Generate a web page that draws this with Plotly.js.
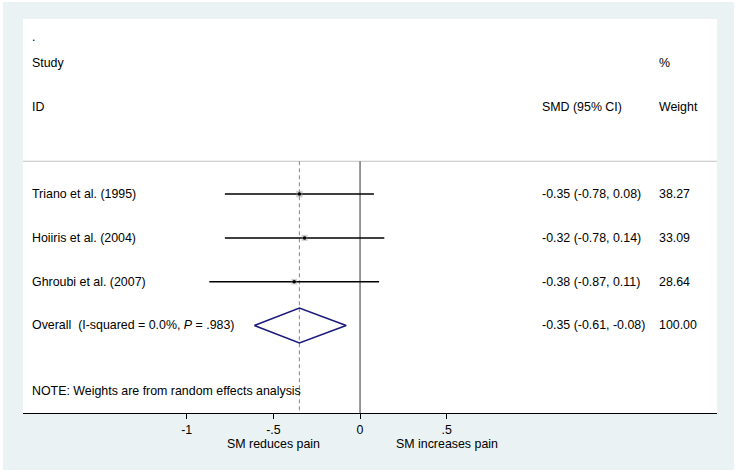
<!DOCTYPE html>
<html>
<head>
<meta charset="utf-8">
<script src="https://cdn.plot.ly/plotly-3.0.1.min.js"></script>
<style>
  body { margin: 0; background: #ffffff; }
  #graph { position: absolute; left: 3px; top: 2px; width: 731px; height: 468px; }
</style>
</head>
<body>
<div id="graph"></div>
<script>
// forest plot data
var studies = ["Triano et al. (1995)", "Hoiiris et al. (2004)", "Ghroubi et al. (2007)"];
var smd = [-0.35, -0.32, -0.38];
var ciLow = [-0.78, -0.78, -0.87];
var ciHigh = [0.08, 0.14, 0.11];
var weights = [38.27, 33.09, 28.64];

var overallLabel = "Overall\u00a0\u00a0(I-squared = 0.0%, <i>P</i> = .983)";
var overallEst = -0.35;
var overallLow = -0.61;
var overallHigh = -0.08;
var overallWeight = 100.00;

var tickVals = [-1, -0.5, 0, 0.5];
var tickText = ["-1", "-.5", "0", ".5"];

var font = "Liberation Sans, Arial, sans-serif";
var fsize = 12.4;
var rows = studies.map(function(s, i) { return i + 1; });
var overallRow = studies.length + 1;

function fmt(v) { return v.toFixed(2); }

// CI lines
var lx = [], ly = [];
for (var i = 0; i < studies.length; i++) {
    lx.push(ciLow[i], ciHigh[i], null);
    ly.push(rows[i], rows[i], null);
}
var ciLines = {
    type: "scatter", mode: "lines", x: lx, y: ly,
    line: {color: "#000000", width: 1.5},
    hoverinfo: "skip", showlegend: false
};
var boxes = {
    type: "scatter", mode: "markers", x: smd, y: rows,
    marker: {
        symbol: "square", color: "rgba(140,140,140,0.6)",
        size: weights.map(function(w) { return 6.5 * Math.sqrt(w / 38.27); }),
        line: {width: 0}
    },
    hoverinfo: "skip", showlegend: false
};
var dots = {
    type: "scatter", mode: "markers", x: smd, y: rows,
    marker: {symbol: "circle", color: "#000000", size: 3.5},
    hoverinfo: "skip", showlegend: false
};
var diamond = {
    type: "scatter", mode: "lines",
    x: [overallLow, overallEst, overallHigh, overallEst, overallLow],
    y: [overallRow, overallRow - 0.4, overallRow, overallRow + 0.4, overallRow],
    line: {color: "#1a1a7a", width: 1.5},
    hoverinfo: "skip", showlegend: false
};

var xName = -1.905, xCI = 1.04, xW = 1.714;
var annotations = [];
function txt(x, y, t, xref, yref) {
    annotations.push({
        x: x, y: y, xref: xref || "x", yref: yref || "y", text: t,
        showarrow: false, xanchor: "left", yanchor: "middle",
        font: {family: font, size: fsize, color: "#000000"}
    });
}
txt(xName, -2.6, ".");
txt(xName, -2, "Study");
txt(xName, -1, "ID");
txt(xW, -2, "%");
txt(xCI, -1, "SMD (95% CI)");
txt(xW, -1, "Weight");
studies.forEach(function(s, i) {
    txt(xName, rows[i], s);
    txt(xCI, rows[i], fmt(smd[i]) + " (" + fmt(ciLow[i]) + ", " + fmt(ciHigh[i]) + ")");
    txt(xW, rows[i], fmt(weights[i]));
});
txt(xName, overallRow, overallLabel);
txt(xCI, overallRow, fmt(overallEst) + " (" + fmt(overallLow) + ", " + fmt(overallHigh) + ")");
txt(xW, overallRow, fmt(overallWeight));
txt(xName, 5.5, "NOTE: Weights are from random effects analysis");

annotations.push({
    x: -0.5, y: -0.079, xref: "x", yref: "paper", text: "SM reduces pain",
    showarrow: false, xanchor: "center", yanchor: "middle",
    font: {family: font, size: fsize, color: "#000000"}
});
annotations.push({
    x: 0.5, y: -0.079, xref: "x", yref: "paper", text: "SM increases pain",
    showarrow: false, xanchor: "center", yanchor: "middle",
    font: {family: font, size: fsize, color: "#000000"}
});

var shapes = [
    {type: "line", xref: "paper", yref: "y", x0: 0, x1: 1, y0: 0.25, y1: 0.25,
     line: {color: "#c4c4c4", width: 1}, layer: "below"},
    {type: "line", xref: "x", yref: "y", x0: 0, x1: 0, y0: 0.25, y1: 6,
     line: {color: "#333333", width: 1}, layer: "below"},
    {type: "line", xref: "x", yref: "y", x0: overallEst, x1: overallEst, y0: 0.25, y1: 6,
     line: {color: "#b07480", width: 1, dash: "4px,3px"}, layer: "below"}
];

var layout = {
    width: 731, height: 468,
    margin: {l: 20, r: 17, t: 17, b: 57},
    paper_bgcolor: "#eaf2f3",
    plot_bgcolor: "#ffffff",
    showlegend: false,
    xaxis: {
        range: [-1.945, 2.06],
        tickvals: tickVals, ticktext: tickText,
        showline: true, linecolor: "#000000", linewidth: 1,
        ticks: "outside", ticklen: 5, tickcolor: "#000000",
        showgrid: false, zeroline: false,
        tickfont: {family: font, size: fsize, color: "#000000"}
    },
    yaxis: {range: [6, -3], visible: false},
    shapes: shapes,
    annotations: annotations
};

Plotly.newPlot("graph", [ciLines, boxes, dots, diamond], layout, {displayModeBar: false, staticPlot: true});
</script>
</body>
</html>
